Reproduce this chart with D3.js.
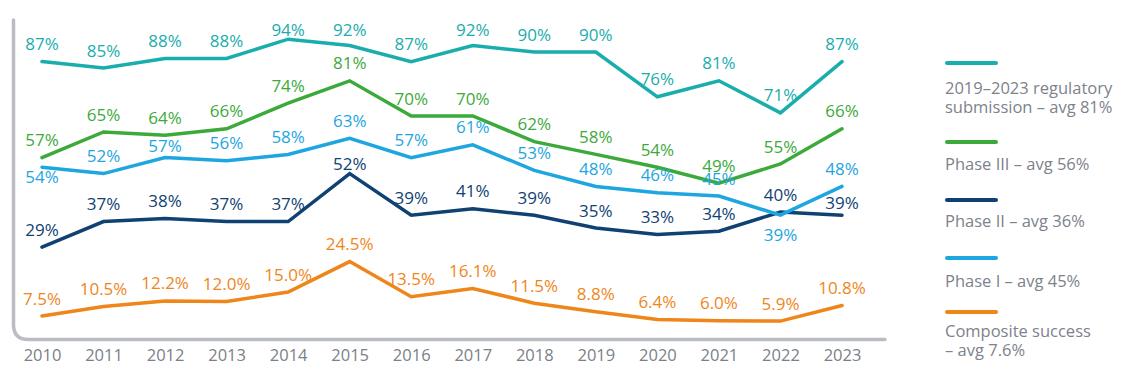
<!DOCTYPE html>
<html>
<head>
<meta charset="utf-8">
<script src="https://cdn.jsdelivr.net/npm/d3@7"></script>
<style>
  html, body { margin: 0; padding: 0; background: #fff; }
  svg { display: block; font-family: "Open Sans", "Noto Sans", sans-serif; }
</style>
</head>
<body>
<svg id="chart" width="1123" height="368"></svg>
<script>
// ---- data ----
const years = [2010, 2011, 2012, 2013, 2014, 2015, 2016, 2017, 2018, 2019, 2020, 2021, 2022, 2023];
const regulatory = [87, 85, 88, 88, 94, 92, 87, 92, 90, 90, 76, 81, 71, 87];
const phase3 = [57, 65, 64, 66, 74, 81, 70, 70, 62, 58, 54, 49, 55, 66];
const phase2 = [29, 37, 38, 37, 37, 52, 39, 41, 39, 35, 33, 34, 40, 39];
const phase1 = [54, 52, 57, 56, 58, 63, 57, 61, 53, 48, 46, 45, 39, 48];
const composite = [7.5, 10.5, 12.2, 12.0, 15.0, 24.5, 13.5, 16.1, 11.5, 8.8, 6.4, 6.0, 5.9, 10.8];
const legendLines = [["2019–2023 regulatory", "submission – avg 81%"], ["Phase III – avg 56%"], ["Phase II – avg 36%"], ["Phase I – avg 45%"], ["Composite success", "– avg 7.6%"]];

// ---- styles ----
const colors = ["#19adac", "#3caa3a", "#0f4273", "#1da6df", "#ef861a"];
const series = [
  { values: regulatory, color: colors[0], decimals: 0, nudge: {} },
  { values: phase3, color: colors[1], decimals: 0, nudge: {} },
  { values: phase2, color: colors[2], decimals: 0, nudge: { 2015: 8, 2023: 5 } },
  { values: phase1, color: colors[3], decimals: 0, nudge: { 2010: 27, 2012: 6, 2022: 37 } },
  { values: composite, color: colors[4], decimals: 1, nudge: {} }
];

const svg = d3.select("#chart");
const x = d3.scalePoint().domain(years).range([42, 842]);
const y = d3.scaleLinear().domain([0, 100]).range([340, 20]);

// frame (left + bottom with rounded corner)
const r = 15;
svg.append("path")
  .attr("d", `M13.5,20 L13.5,${339.5 - r} Q13.5,339.5 ${13.5 + r},339.5 L885,339.5`)
  .attr("fill", "none")
  .attr("stroke", "#babec4")
  .attr("stroke-width", 3.5)
  .attr("stroke-linecap", "round");

// x axis labels via d3 axis
const xAxis = svg.append("g")
  .attr("transform", "translate(0,345)")
  .call(d3.axisBottom(x).tickSize(0).tickPadding(4));
xAxis.select(".domain").remove();
xAxis.selectAll("text")
  .attr("font-size", 16.5)
  .attr("font-family", "'Open Sans', sans-serif")
  .attr("fill", "#7a7f88");

const line = d3.line().x((d, i) => x(years[i])).y(d => y(d));

series.forEach(s => {
  svg.append("path")
    .datum(s.values)
    .attr("d", line)
    .attr("fill", "none")
    .attr("stroke", s.color)
    .attr("stroke-width", 3.5)
    .attr("stroke-linejoin", "miter")
    .attr("stroke-linecap", "round");
});

series.forEach(s => {
  svg.append("g").selectAll("text")
    .data(s.values)
    .join("text")
    .attr("x", (d, i) => x(years[i]))
    .attr("y", (d, i) => {
      const yr = years[i];
      let yy = y(d) - 18;
      if (s.nudge[yr] !== undefined) yy += s.nudge[yr];
      else yy = Math.max(yy, 29);
      return yy;
    })
    .attr("text-anchor", "middle")
    .attr("dominant-baseline", "central")
    .attr("font-size", 17)
    .attr("fill", s.color)
    .text(d => d.toFixed(s.decimals) + "%");
});

// legend
const legendSwatchY = [63, 142, 200, 258, 312];
const legendTextY = [87, 163, 220, 280, 330];
const lg = svg.append("g");
legendLines.forEach((lines, i) => {
  lg.append("line")
    .attr("x1", 947).attr("x2", 996)
    .attr("y1", legendSwatchY[i]).attr("y2", legendSwatchY[i])
    .attr("stroke", colors[i])
    .attr("stroke-width", 4)
    .attr("stroke-linecap", "round");
  const t = lg.append("text")
    .attr("x", 945)
    .attr("y", legendTextY[i])
    .attr("dominant-baseline", "central")
    .attr("font-size", 16.5)
    .attr("fill", "#7d828b");
  lines.forEach((txt, j) => {
    t.append("tspan")
      .attr("x", 945)
      .attr("dy", j === 0 ? 0 : 18.5)
      .text(txt);
  });
});
</script>
</body>
</html>
